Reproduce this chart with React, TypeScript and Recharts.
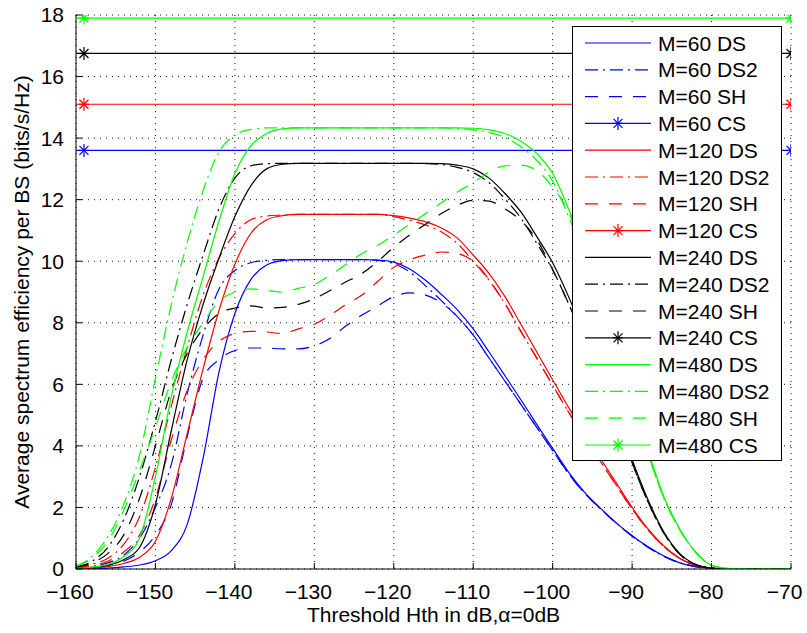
import React from "react";
import { LineChart, Line, XAxis, YAxis, CartesianGrid, Label } from "recharts";

// threshold Hth (dB)
const thresholds = [
  -160, -158, -156, -154, -152, -150, -148, -146, -144, -142, -140, -138, -136, -134, -132, -130,
  -128, -126, -124, -122, -120, -118, -116, -114, -112, -110, -108, -106, -104, -102, -100, -98,
  -96, -94, -92, -90, -88, -86, -84, -82, -80, -78, -76, -74, -72, -70,
];

// M=60
const ds60 = [0, 0.01, 0.03, 0.07, 0.13, 0.27, 0.6, 1.45, 3.6, 6.4, 8.3, 9.4, 9.88, 10.02, 10.05, 10.05, 10.05, 10.05, 10.05, 10.04, 9.97, 9.75, 9.38, 8.92, 8.42, 7.8, 7.05, 6.28, 5.5, 4.7, 3.92, 3.15, 2.5, 1.98, 1.5, 1.08, 0.72, 0.42, 0.2, 0.08, 0.02, 0, 0, 0, 0, 0];
const ds2_60 = [0.03, 0.08, 0.2, 0.45, 1.0, 2.0, 3.4, 5.7, 7.6, 9.1, 9.7, 9.95, 10.03, 10.05, 10.05, 10.05, 10.05, 10.05, 10.05, 10.03, 9.92, 9.65, 9.2, 8.72, 8.2, 7.6, 6.85, 6.1, 5.35, 4.6, 3.85, 3.1, 2.47, 1.96, 1.49, 1.07, 0.71, 0.41, 0.2, 0.08, 0.02, 0, 0, 0, 0, 0];
const sh60 = [0.02, 0.05, 0.12, 0.25, 0.55, 1.1, 2.1, 4.3, 6.2, 6.8, 7.1, 7.18, 7.18, 7.15, 7.15, 7.25, 7.5, 7.9, 8.25, 8.55, 8.85, 8.97, 8.9, 8.65, 8.2, 7.6, 6.85, 6.1, 5.35, 4.6, 3.85, 3.1, 2.47, 1.96, 1.49, 1.07, 0.71, 0.41, 0.2, 0.08, 0.02, 0, 0, 0, 0, 0];

// M=120
const ds120 = [0.01, 0.03, 0.08, 0.18, 0.38, 0.9, 2.3, 4.4, 6.5, 8.4, 9.9, 10.9, 11.35, 11.48, 11.52, 11.52, 11.52, 11.52, 11.52, 11.52, 11.48, 11.4, 11.28, 11.08, 10.75, 10.2, 9.6, 8.85, 7.95, 7.05, 6.15, 5.25, 4.4, 3.6, 2.8, 2.0, 1.3, 0.75, 0.35, 0.12, 0.03, 0, 0, 0, 0, 0];
const ds2_120 = [0.05, 0.15, 0.35, 0.8, 1.7, 3.3, 5.3, 7.2, 8.9, 10.1, 10.9, 11.35, 11.47, 11.5, 11.52, 11.52, 11.52, 11.52, 11.52, 11.52, 11.45, 11.33, 11.18, 10.95, 10.58, 10.0, 9.38, 8.62, 7.72, 6.85, 5.97, 5.1, 4.28, 3.5, 2.72, 1.95, 1.27, 0.73, 0.34, 0.12, 0.03, 0, 0, 0, 0, 0];
const sh120 = [0.04, 0.1, 0.25, 0.55, 1.1, 2.3, 4.2, 5.8, 6.8, 7.4, 7.65, 7.72, 7.7, 7.65, 7.8, 7.95, 8.25, 8.6, 8.9, 9.35, 9.8, 10.05, 10.2, 10.3, 10.25, 10.0, 9.4, 8.62, 7.72, 6.85, 5.97, 5.1, 4.28, 3.5, 2.72, 1.95, 1.27, 0.73, 0.34, 0.12, 0.03, 0, 0, 0, 0, 0];

// M=240
const ds240 = [0.02, 0.05, 0.12, 0.3, 0.7, 2.1, 4.5, 6.8, 8.6, 10.1, 11.45, 12.45, 13.0, 13.15, 13.18, 13.18, 13.18, 13.18, 13.18, 13.18, 13.18, 13.18, 13.18, 13.17, 13.12, 13.0, 12.7, 12.2, 11.6, 10.8, 9.95, 8.85, 7.6, 6.3, 5.0, 3.55, 2.25, 1.2, 0.5, 0.15, 0.03, 0, 0, 0, 0, 0];
const ds2_240 = [0.07, 0.25, 0.7, 1.6, 3.0, 4.8, 6.8, 8.6, 10.2, 11.7, 12.7, 13.1, 13.17, 13.18, 13.18, 13.18, 13.18, 13.18, 13.18, 13.18, 13.18, 13.18, 13.17, 13.14, 13.05, 12.88, 12.55, 12.02, 11.4, 10.58, 9.72, 8.62, 7.4, 6.12, 4.85, 3.45, 2.18, 1.16, 0.48, 0.14, 0.03, 0, 0, 0, 0, 0];
const sh240 = [0.06, 0.2, 0.5, 1.1, 2.3, 4.0, 5.8, 7.0, 7.8, 8.3, 8.48, 8.55, 8.48, 8.5, 8.6, 8.78, 9.05, 9.33, 9.6, 10.0, 10.45, 10.85, 11.2, 11.55, 11.82, 11.98, 11.95, 11.7, 11.32, 10.7, 9.72, 8.62, 7.4, 6.12, 4.85, 3.45, 2.18, 1.16, 0.48, 0.14, 0.03, 0, 0, 0, 0, 0];

// M=480
const ds480 = [0.02, 0.06, 0.15, 0.4, 1.0, 3.0, 5.6, 7.7, 9.5, 11.3, 12.85, 13.75, 14.15, 14.3, 14.33, 14.33, 14.33, 14.33, 14.33, 14.33, 14.33, 14.33, 14.33, 14.33, 14.33, 14.32, 14.27, 14.15, 13.9, 13.5, 12.85, 11.7, 10.4, 8.9, 7.3, 5.6, 3.85, 2.35, 1.3, 0.55, 0.12, 0.02, 0, 0, 0, 0];
const ds2_480 = [0.08, 0.4, 1.05, 2.1, 3.7, 6.2, 8.6, 10.6, 12.3, 13.55, 14.1, 14.28, 14.33, 14.33, 14.33, 14.33, 14.33, 14.33, 14.33, 14.33, 14.33, 14.33, 14.33, 14.33, 14.31, 14.27, 14.18, 14.02, 13.72, 13.28, 12.6, 11.45, 10.15, 8.65, 7.1, 5.45, 3.75, 2.3, 1.27, 0.54, 0.12, 0.02, 0, 0, 0, 0];
const sh480 = [0.1, 0.35, 0.9, 1.9, 3.2, 4.6, 6.1, 7.2, 8.0, 8.7, 9.0, 9.1, 9.05, 9.0, 9.12, 9.25, 9.55, 9.9, 10.25, 10.52, 10.85, 11.2, 11.55, 11.9, 12.25, 12.55, 12.9, 13.1, 13.12, 12.95, 12.4, 11.6, 10.15, 8.65, 7.1, 5.45, 3.75, 2.3, 1.27, 0.54, 0.12, 0.02, 0, 0, 0, 0];

// CS: flat lines, marker at -159 and -70
const csX = [-160, -159, -70];
const cs60 = [13.6, 13.6, 13.6];
const cs120 = [15.1, 15.1, 15.1];
const cs240 = [16.75, 16.75, 16.75];
const cs480 = [17.9, 17.9, 17.9];

const xTicks = [-160, -150, -140, -130, -120, -110, -100, -90, -80, -70];
const yTicks = [0, 2, 4, 6, 8, 10, 12, 14, 16, 18];

const BLUE = "#0000ff";
const RED = "#ff0000";
const BLACK = "#000000";
const GREEN = "#00ff00";
const FONT = "'Liberation Sans', Arial, Helvetica, sans-serif";
const DASHDOT = "13 5 2 5";
const DASHED = "13 11";

type Kind = "DS" | "DS2" | "SH" | "CS";

const groups = [
  { m: 60, color: BLUE, ds: ds60, ds2: ds2_60, sh: sh60, cs: cs60 },
  { m: 120, color: RED, ds: ds120, ds2: ds2_120, sh: sh120, cs: cs120 },
  { m: 240, color: BLACK, ds: ds240, ds2: ds2_240, sh: sh240, cs: cs240 },
  { m: 480, color: GREEN, ds: ds480, ds2: ds2_480, sh: sh480, cs: cs480 },
];

const series: { key: string; name: string; color: string; kind: Kind; values: number[] }[] = [];
groups.forEach((g) => {
  series.push({ key: `ds${g.m}`, name: `M=${g.m} DS`, color: g.color, kind: "DS", values: g.ds });
  series.push({ key: `ds2_${g.m}`, name: `M=${g.m} DS2`, color: g.color, kind: "DS2", values: g.ds2 });
  series.push({ key: `sh${g.m}`, name: `M=${g.m} SH`, color: g.color, kind: "SH", values: g.sh });
  series.push({ key: `cs${g.m}`, name: `M=${g.m} CS`, color: g.color, kind: "CS", values: g.cs });
});

const curveData = thresholds.map((x, i) => {
  const row: Record<string, number> = { x };
  series.forEach((s) => {
    if (s.kind !== "CS") row[s.key] = s.values[i];
  });
  return row;
});

const csData = csX.map((x, i) => {
  const row: Record<string, number> = { x };
  series.forEach((s) => {
    if (s.kind === "CS") row[s.key] = s.values[i];
  });
  return row;
});

const dashFor = (kind: Kind) => (kind === "DS2" ? DASHDOT : kind === "SH" ? DASHED : undefined);

function StarShape({ cx, cy, color }: { cx: number; cy: number; color: string }) {
  return (
    <g stroke={color} strokeWidth={1.2}>
      <line x1={cx - 5} y1={cy} x2={cx + 5} y2={cy} />
      <line x1={cx} y1={cy - 6.5} x2={cx} y2={cy + 6.5} />
      <line x1={cx - 4.5} y1={cy - 4.5} x2={cx + 4.5} y2={cy + 4.5} />
      <line x1={cx - 4.5} y1={cy + 4.5} x2={cx + 4.5} y2={cy - 4.5} />
    </g>
  );
}

const starDot = (color: string) => (props: any) => {
  const { cx, cy, payload, index } = props;
  if (cx == null || cy == null || payload.x === csX[0]) return <g key={index} />;
  return <StarShape key={index} cx={cx} cy={cy} color={color} />;
};

const fmtTick = (v: number) => String(v).replace("-", "\u2212");

function YTitle(props: any) {
  const { viewBox } = props;
  const x = viewBox.x + 11;
  const y = viewBox.y + viewBox.height / 2;
  return (
    <text
      x={x}
      y={y}
      transform={`rotate(-90 ${x} ${y})`}
      textAnchor="middle"
      dominantBaseline="central"
      fontSize={21}
      fontFamily={FONT}
      fill="#000"
    >
      Average spectrum efficiency per BS (bits/s/Hz)
    </text>
  );
}

function LegendBox() {
  const rowH = 26.8;
  return (
    <svg width={211} height={436} style={{ position: "absolute", left: 572, top: 26 }}>
      <rect x={0.5} y={0.5} width={209} height={434} fill="#fff" stroke="#000" strokeWidth={1} />
      {series.map((s, i) => {
        const y = 17 + rowH * i;
        return (
          <g key={s.key}>
            <line x1={13} y1={y} x2={79} y2={y} stroke={s.color} strokeWidth={1.2} strokeDasharray={dashFor(s.kind)} />
            {s.kind === "CS" && <StarShape cx={46} cy={y} color={s.color} />}
            <text x={86} y={y} dominantBaseline="central" fontSize={21} fontFamily={FONT} fill="#000">
              {s.name}
            </text>
          </g>
        );
      })}
    </svg>
  );
}

export default function App() {
  return (
    <div style={{ position: "absolute", left: 0, top: 0, width: 807, height: 633, background: "#fff" }}>
      <LineChart width={807} height={633} data={curveData} margin={{ top: 15, right: 16, bottom: 14, left: 10 }}>
        <CartesianGrid stroke="#111" strokeDasharray="1 5" />
        <XAxis
          type="number"
          dataKey="x"
          domain={[-160, -70]}
          ticks={xTicks}
          tickFormatter={fmtTick}
          allowDataOverflow
          height={50}
          tickSize={-6}
          tickMargin={21}
          axisLine={{ stroke: "#000" }}
          tickLine={{ stroke: "#000" }}
          tick={{ fill: "#000", fontSize: 21, fontFamily: FONT, dx: -6 }}
        >
          <Label value="Threshold Hth in dB,α=0dB" position="insideBottom" offset={-3} fill="#000" fontSize={21} fontFamily={FONT} />
        </XAxis>
        <YAxis
          type="number"
          domain={[0, 18]}
          ticks={yTicks}
          allowDataOverflow
          width={66}
          tickSize={-6}
          tickMargin={18}
          axisLine={{ stroke: "#000" }}
          tickLine={{ stroke: "#000" }}
          tick={{ fill: "#000", fontSize: 21, fontFamily: FONT }}
        >
          <Label content={<YTitle />} />
        </YAxis>
        {series.map((s) =>
          s.kind === "CS" ? (
            <Line
              key={s.key}
              data={csData}
              dataKey={s.key}
              type="linear"
              stroke={s.color}
              strokeWidth={1.2}
              dot={starDot(s.color)}
              activeDot={false}
              isAnimationActive={false}
            />
          ) : (
            <Line
              key={s.key}
              dataKey={s.key}
              type="monotone"
              stroke={s.color}
              strokeWidth={1.2}
              strokeDasharray={dashFor(s.kind)}
              dot={false}
              activeDot={false}
              isAnimationActive={false}
            />
          )
        )}
      </LineChart>
      <LegendBox />
    </div>
  );
}
